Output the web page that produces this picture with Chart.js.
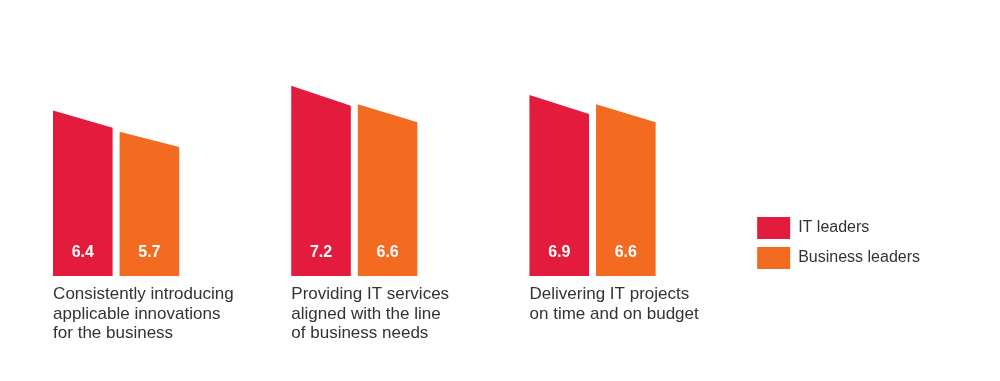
<!DOCTYPE html>
<html><head><meta charset="utf-8">
<script src="https://cdn.jsdelivr.net/npm/chart.js@4.4.1/dist/chart.umd.min.js"></script>
<style>
html,body{margin:0;padding:0;background:#fff;overflow:hidden;width:1000px;height:381px}
#wrap{position:absolute;left:-3px;top:0;width:1003px;height:381px}
</style>
</head><body><div id="wrap"><canvas id="c"></canvas></div>
<script>
const categories = [
  ["Consistently introducing", "applicable innovations", "for the business"],
  ["Providing IT services", "aligned with the line", "of business needs"],
  ["Delivering IT projects", "on time and on budget"]
];
const seriesNames = ["IT leaders", "Business leaders"];
const itLeaders = [6.4, 7.2, 6.9];
const businessLeaders = [5.7, 6.6, 6.6];

const COLORS = ["#E31B3C", "#F26B21"];
const SLANT = 0.895;
const AXIS_MIN = 1;
const FONT = "'Liberation Sans', Arial, Helvetica, sans-serif";

const slantBars = {
  id: 'slantBars',
  beforeDatasetDraw(chart, args) {
    const ctx = chart.ctx;
    const ds = chart.data.datasets[args.index];
    ctx.save();
    args.meta.data.forEach(el => {
      const p = el.getProps(['x', 'y', 'base', 'width'], true);
      const l = p.x - p.width / 2, r = p.x + p.width / 2;
      const h = p.base - p.y;
      ctx.fillStyle = ds.backgroundColor;
      ctx.beginPath();
      ctx.moveTo(l, p.base);
      ctx.lineTo(l, p.y);
      ctx.lineTo(r, p.base - h * SLANT);
      ctx.lineTo(r, p.base);
      ctx.closePath();
      ctx.fill();
    });
    ctx.restore();
    return false;
  }
};

const valueLabels = {
  id: 'valueLabels',
  afterDatasetsDraw(chart) {
    const ctx = chart.ctx;
    ctx.save();
    ctx.fillStyle = '#ffffff';
    ctx.font = "bold 16px " + FONT;
    ctx.textAlign = 'center';
    ctx.textBaseline = 'middle';
    chart.data.datasets.forEach((ds, i) => {
      chart.getDatasetMeta(i).data.forEach((el, j) => {
        const p = el.getProps(['x', 'base'], true);
        ctx.fillText(ds.data[j].toFixed(1), p.x, p.base - 23);
      });
    });
    ctx.restore();
  }
};

new Chart(document.getElementById('c'), {
  type: 'bar',
  data: {
    labels: categories,
    datasets: [
      { label: seriesNames[0], data: itLeaders, backgroundColor: COLORS[0], borderWidth: 0, base: AXIS_MIN },
      { label: seriesNames[1], data: businessLeaders, backgroundColor: COLORS[1], borderWidth: 0, base: AXIS_MIN }
    ]
  },
  options: {
    responsive: true,
    maintainAspectRatio: false,
    animation: false,
    devicePixelRatio: 1,
    categoryPercentage: 0.559,
    barPercentage: 0.895,
    layout: { padding: { top: 0, bottom: 0, left: 0, right: 70 } },
    plugins: {
      tooltip: { enabled: false },
      legend: {
        position: 'right',
        align: 'center',
        title: { display: true, text: ' ', font: { size: 10, lineHeight: 1 }, padding: { top: 95, bottom: 0 } },
        labels: {
          boxWidth: 33,
          boxHeight: 22,
          padding: 8,
          color: '#333333',
          font: { family: FONT, size: 16 }
        }
      }
    },
    scales: {
      x: {
        position: 'bottom',
        grid: { display: false },
        border: { display: false },
        ticks: {
          color: '#333333',
          font: { family: FONT, size: 17, lineHeight: 1.17 },
          align: 'start',
          labelOffset: -63,
          padding: 0,
          autoSkip: false,
          maxRotation: 0,
          minRotation: 0
        },
        afterFit: s => { s.height = 105; }
      },
      y: {
        position: 'right',
        min: AXIS_MIN,
        max: 10,
        grid: { display: false },
        border: { display: false },
        ticks: { display: false },
        afterFit: s => { s.width = 37.5; }
      }
    }
  },
  plugins: [slantBars, valueLabels]
});
</script>
</body></html>
